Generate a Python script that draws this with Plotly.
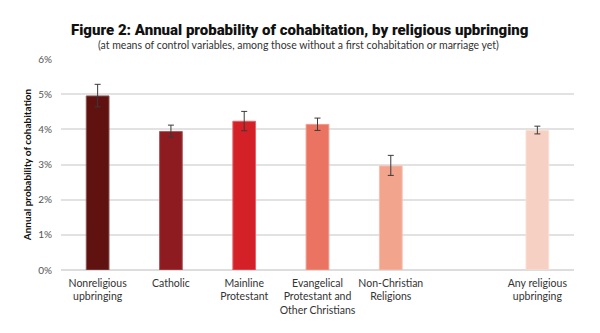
import plotly.graph_objects as go

# Religious upbringing groups (a blank slot separates the pooled group)
categories = [
    "Nonreligious<br>upbringing",
    "Catholic",
    "Mainline<br>Protestant",
    "Evangelical<br>Protestant and<br>Other Christians",
    "Non-Christian<br>Religions",
    " ",
    "Any religious<br>upbringing",
]
probability = [4.95, 3.94, 4.23, 4.14, 2.96, None, 3.97]   # percent
err_plus = [0.33, 0.18, 0.28, 0.18, 0.30, None, 0.12]
err_minus = [0.31, 0.16, 0.27, 0.17, 0.27, None, 0.10]

bar_colors = ["#5f1210", "#8e1b20", "#d42027", "#ea7461", "#f2a48d", "#ffffff", "#f6d1c3"]
edge_colors = ["#8a5553", "#b0585c", "#e0666b", "#f09a8c", "#f6bfae", "#ffffff", "#f9dfd5"]

y_ticks = [0, 1, 2, 3, 4, 5, 6]
y_tick_labels = [f"{v}%" for v in y_ticks]

title_text = "Figure 2: Annual probability of cohabitation, by religious upbringing"
subtitle_text = ("(at means of control variables, among those without "
                 "a first cohabitation or marriage yet)")

fig = go.Figure(
    go.Bar(
        x=categories,
        y=probability,
        width=0.31,
        marker=dict(color=bar_colors, line=dict(color=edge_colors, width=1)),
        error_y=dict(
            type="data",
            symmetric=False,
            array=err_plus,
            arrayminus=err_minus,
            color="#3a3a3a",
            thickness=1,
            width=3,
        ),
        hoverinfo="skip",
    )
)

fig.add_annotation(
    text=title_text,
    xref="paper", yref="paper", x=0.465, y=1.0,
    yshift=29, xanchor="center", yanchor="middle", showarrow=False,
    font=dict(family="Roboto", size=15, color="#111111", weight=900),
)
fig.add_annotation(
    text=subtitle_text,
    xref="paper", yref="paper", x=0.462, y=1.0,
    yshift=14, xanchor="center", yanchor="middle", showarrow=False,
    font=dict(family="Lato", size=10.5, color="#333333"),
)

fig.update_layout(
    width=600,
    height=333,
    margin=dict(l=61, r=26, t=59, b=63),
    paper_bgcolor="white",
    plot_bgcolor="white",
    showlegend=False,
    font=dict(family="Lato", color="#444444", size=10),
    xaxis=dict(
        type="category",
        categoryorder="array",
        categoryarray=categories,
        showgrid=False,
        showline=False,
        ticks="",
        tickangle=0,
        automargin=False,
        tickfont=dict(size=10.5, color="#333333"),
        ticklabelstandoff=5,
        range=[-0.5, 6.5],
    ),
    yaxis=dict(
        range=[0, 6],
        tickvals=y_ticks,
        ticktext=y_tick_labels,
        showgrid=True,
        gridcolor="#e2e2e2",
        gridwidth=1.5,
        zeroline=True,
        zerolinecolor="#dddddd",
        zerolinewidth=1.5,
        automargin=False,
        tickfont=dict(size=10, color="#555555"),
        ticks="",
        ticklabelstandoff=8,
        title=dict(
            text="<b>Annual probability of cohabitation</b>",
            font=dict(size=10, color="#111111"),
            standoff=4,
        ),
    ),
)

fig.write_html("out.html")
